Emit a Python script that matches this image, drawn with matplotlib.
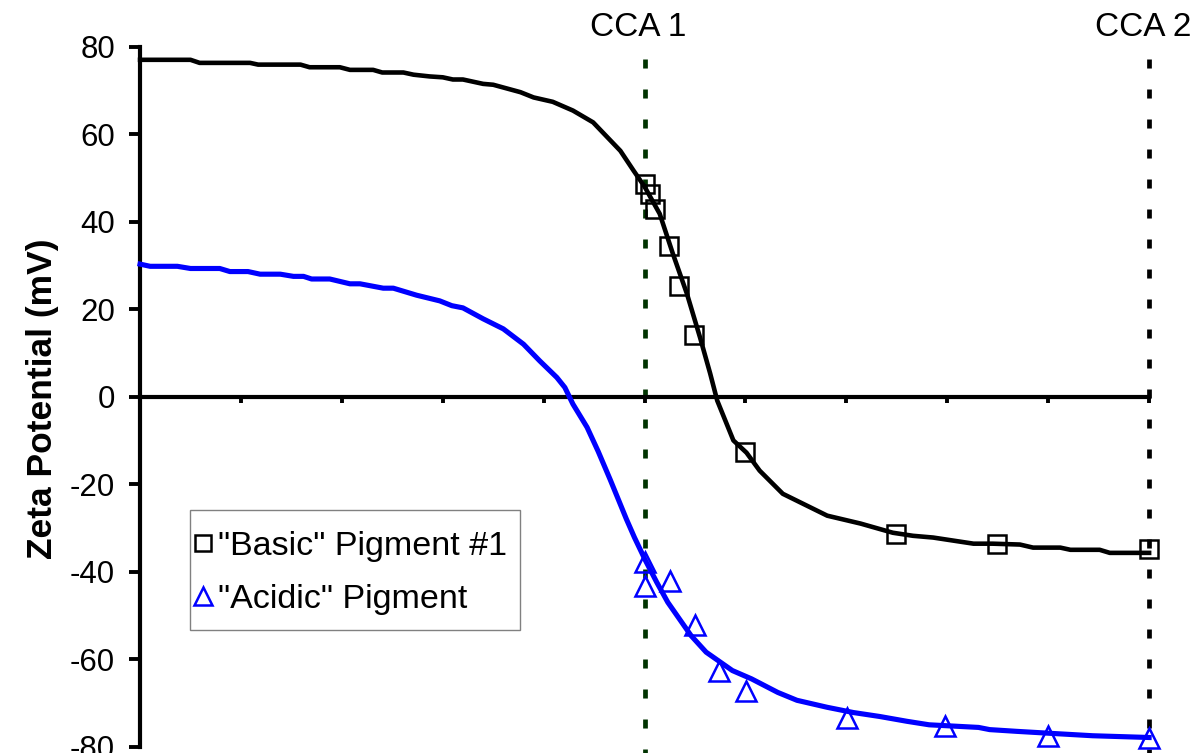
import numpy as np
import matplotlib
matplotlib.use("Agg")
import matplotlib.pyplot as plt
from matplotlib.patches import Rectangle
from matplotlib.ticker import FuncFormatter

plt.rcParams['font.family'] = ['Liberation Sans', 'DejaVu Sans']
plt.rcParams['lines.scale_dashes'] = False

# fitted curves (x in arbitrary dose units, one tick = 1)
basic_x = [0, 0.5, 0.59, 1.09, 1.17, 1.59, 1.68, 1.98, 2.08, 2.31, 2.4, 2.61, 2.71, 2.87,
           3.0, 3.1, 3.2, 3.4, 3.5, 3.77, 3.9, 4.09, 4.29, 4.49, 4.76, 4.89, 5.0, 5.15,
           5.28, 5.42, 5.55, 5.65, 5.72, 5.88, 6.01, 6.14, 6.37, 6.81, 7.14, 7.46, 7.66, 7.86,
           8.06, 8.26, 8.45, 8.72, 8.85, 9.12, 9.22, 9.51, 9.61, 10.0]
basic_y = [77.0, 77.0, 76.3, 76.3, 75.9, 75.9, 75.3, 75.3, 74.7, 74.7, 74.1, 74.1, 73.6, 73.2,
           73.0, 72.5, 72.5, 71.5, 71.3, 69.6, 68.4, 67.4, 65.4, 62.7, 56.2, 51.7, 48.0, 41.8,
           32.7, 23.5, 13.5, 5.3, -0.9, -10.0, -12.8, -16.9, -22.2, -27.2, -29.0, -31.1, -31.8, -32.2,
           -32.9, -33.6, -33.6, -33.8, -34.5, -34.5, -35.0, -35.0, -35.7, -35.7]

acidic_x = [0, 0.1, 0.37, 0.5, 0.79, 0.89, 1.07, 1.19, 1.39, 1.52, 1.62, 1.7, 1.88, 2.08,
            2.18, 2.41, 2.51, 2.74, 2.97, 3.09, 3.2, 3.4, 3.6, 3.8, 3.96, 4.13, 4.21, 4.29,
            4.43, 4.54, 4.66, 4.82, 4.9, 5.01, 5.12, 5.23, 5.46, 5.61, 5.87, 6.06, 6.32,
            6.51, 6.81, 7.07, 7.33, 7.6, 7.82, 8.31, 8.42, 8.69, 9.06, 9.44, 10.0]
acidic_y = [30.3, 29.8, 29.8, 29.3, 29.3, 28.6, 28.6, 28.0, 28.0, 27.5, 27.5, 26.9, 26.9, 25.8,
            25.8, 24.8, 24.8, 23.2, 21.9, 20.8, 20.3, 17.8, 15.5, 12.0, 8.2, 4.4, 2.1, -1.7,
            -7.0, -12.5, -19.0, -28.0, -32.2, -37.5, -42.4, -47.0, -54.6, -58.4, -62.6, -64.5,
            -67.6, -69.4, -71.0, -72.2, -73.1, -74.2, -75.0, -75.6, -76.1, -76.5, -77.0, -77.5, -77.9]

# measured points
basic_pts_x = [5.0, 5.05, 5.1, 5.24, 5.34, 5.49, 6.0, 7.49, 8.49, 10.0]
basic_pts_y = [48.6, 46.3, 42.9, 34.4, 25.4, 14.2, -12.7, -31.4, -33.7, -34.8]
acidic_pts_x = [5.0, 5.0, 5.25, 5.5, 5.74, 6.01, 7.01, 7.98, 9.0, 10.0]
acidic_pts_y = [-37.9, -43.2, -42.1, -52.1, -62.8, -67.2, -73.4, -75.2, -77.5, -78.0]

cca_x = [5, 10]
cca_labels = ['CCA 1', 'CCA 2']
cca_colors = ['#003300', 'black']

fig = plt.figure(figsize=(11.95, 7.53), dpi=100)
ax = fig.add_axes([0.1172, 0.0084, 0.8444, 0.9296])

for x, lab, c in zip(cca_x, cca_labels, cca_colors):
    ax.axvline(x, ymin=0.982, ymax=-0.01, color=c, lw=3.4,
               linestyle=(0, (6.5, 15.1)), clip_on=False, zorder=1)
    ax.text(x - 0.06, 1.027, lab, transform=ax.get_xaxis_transform(),
            ha='center', va='center', fontsize=24)

ax.plot(basic_x, basic_y, color='black', lw=3.3, zorder=3, clip_on=False)
ax.plot(acidic_x, acidic_y, color='blue', lw=3.7, zorder=3, clip_on=False)
ax.plot(basic_pts_x, basic_pts_y, linestyle='none', marker='s', ms=13.5, mfc='none',
        mec='black', mew=1.8, zorder=4, clip_on=False, label='"Basic" Pigment #1')
ax.plot(acidic_pts_x, acidic_pts_y, linestyle='none', marker='^', ms=15, mfc='none',
        mec='blue', mew=1.8, zorder=4, clip_on=False, label='"Acidic" Pigment')

ax.set_xlim(0, 10)
ax.set_ylim(-80, 80)
ax.set_yticks(np.arange(-80, 81, 20))
ax.yaxis.set_major_formatter(FuncFormatter(lambda v, p: '%d' % v))
ax.set_xticks(np.arange(1, 11))
ax.set_xticklabels([])

ax.spines['top'].set_visible(False)
ax.spines['right'].set_visible(False)
ax.spines['bottom'].set_position(('data', 0))
ax.spines['left'].set_linewidth(3.0)
ax.spines['bottom'].set_linewidth(3.0)

ax.tick_params(axis='y', direction='out', length=8, width=2.8, pad=10, labelsize=22.5)
ax.tick_params(axis='x', direction='out', length=4, width=2.8)

ax.set_ylabel('Zeta Potential (mV)', fontsize=25.5, fontweight='bold')
ax.yaxis.set_label_coords(-0.080, 0.497)

# legend frame drawn as its own box, legend entries placed inside it
ax.add_patch(Rectangle((0.0496, 0.1667), 0.327, 0.1714, transform=ax.transAxes,
                       facecolor='white', edgecolor='#808080', lw=1.0, zorder=5))
leg = ax.legend(loc='upper left', bbox_to_anchor=(0.051, 0.308), borderaxespad=0,
                fontsize=24.5, markerscale=0.85, handlelength=0.65, handletextpad=0.12,
                borderpad=0, labelspacing=0.65, frameon=False)
leg.set_zorder(6)

fig.savefig('out.png', dpi=100)
